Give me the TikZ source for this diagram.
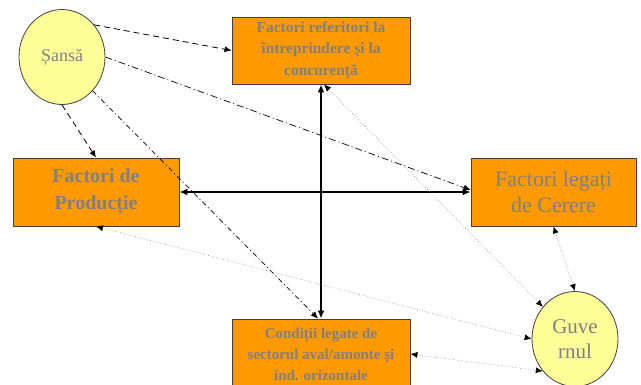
\documentclass[tikz,border=0pt]{standalone}
\usepackage{fontspec}
\setmainfont{Liberation Serif}
\newfontfamily\tnr{Liberation Serif}
\usetikzlibrary{arrows.meta,shapes.geometric}
\definecolor{boxfill}{HTML}{FF9900}
\definecolor{circfill}{HTML}{FFFF99}
\definecolor{txtgray}{HTML}{808080}
\definecolor{edgegray}{HTML}{404040}
\begin{document}
\begin{tikzpicture}[x=1pt,y=-1pt,
 box/.style={draw=edgegray, line width=0.9pt, fill=boxfill, text=txtgray, align=center, inner sep=0pt},
 circ/.style={ellipse, draw=edgegray, line width=0.8pt, fill=circfill, text=txtgray, align=center, inner sep=0pt, minimum width=86pt, minimum height=95pt},
 tip/.style={-{Latex[length=7pt,width=6pt,color=black]}},
 both/.style={{Latex[length=7pt,width=6pt,color=black]}-{Latex[length=7pt,width=6pt,color=black]}},
 thickarrow/.style={{Latex[length=8pt,width=7pt]}-{Latex[length=8pt,width=7pt]}, line width=1.6pt},
 dashline/.style={tip, dash pattern=on 6pt off 4pt, line width=0.8pt},
 dashdotline/.style={tip, dash pattern=on 7pt off 3pt on 1pt off 3pt, line width=0.7pt},
 dashdotdotline/.style={tip, dash pattern=on 5pt off 3pt on 1pt off 3pt, line width=0.7pt},
 dotline/.style={both, dotted, line width=0.6pt, draw=gray}
]
\useasboundingbox (0,0) rectangle (641,385);
\node[box, minimum width=178pt, minimum height=67pt, font=\tnr\fontsize{15.5}{21.5}\selectfont\bfseries] (top) at (321,50.5) {Factori referitori la\\întreprindere și la\\concurență};
\node[box, minimum width=166pt, minimum height=68pt, font=\tnr\fontsize{20}{27}\selectfont\bfseries] (prod) at (96,192) {Factori de\\Producție};
\node[box, minimum width=165pt, minimum height=68pt, font=\tnr\fontsize{22}{26}\selectfont] (cerere) at (553.5,192) {Factori legați\\de Cerere};
\node[box, minimum width=178pt, minimum height=70pt, font=\tnr\fontsize{15}{21}\selectfont\bfseries] (bottom) at (321,354) {Condiții legate de\\sectorul aval/amonte și\\ind. orizontale};
\node[circ, font=\tnr\fontsize{18}{22}\selectfont] (sansa) at (62,57) {Șansă};
\node[circ, font=\tnr\fontsize{21}{25}\selectfont] (guv) at (575,339) {Guve\\rnul};
\draw[thickarrow] (top.south) -- (bottom.north);
\draw[thickarrow] (prod.east) -- (cerere.west);
\draw[dashline] (sansa.45) -- (top.west);
\draw[dashline] (sansa.south) -- (prod.north);
\draw[dashdotline] (sansa.east) -- ([yshift=2pt]cerere.west);
\draw[dashdotdotline] (sansa.south east) -- ([xshift=-3pt]bottom.north);
\draw[dotline] ([xshift=3pt]top.south) -- (guv.135);
\draw[dotline] (prod.south) -- (guv.west);
\draw[dotline] (cerere.south) -- (guv.north);
\draw[dotline] (bottom.east) -- (guv.225);
\end{tikzpicture}
\end{document}
